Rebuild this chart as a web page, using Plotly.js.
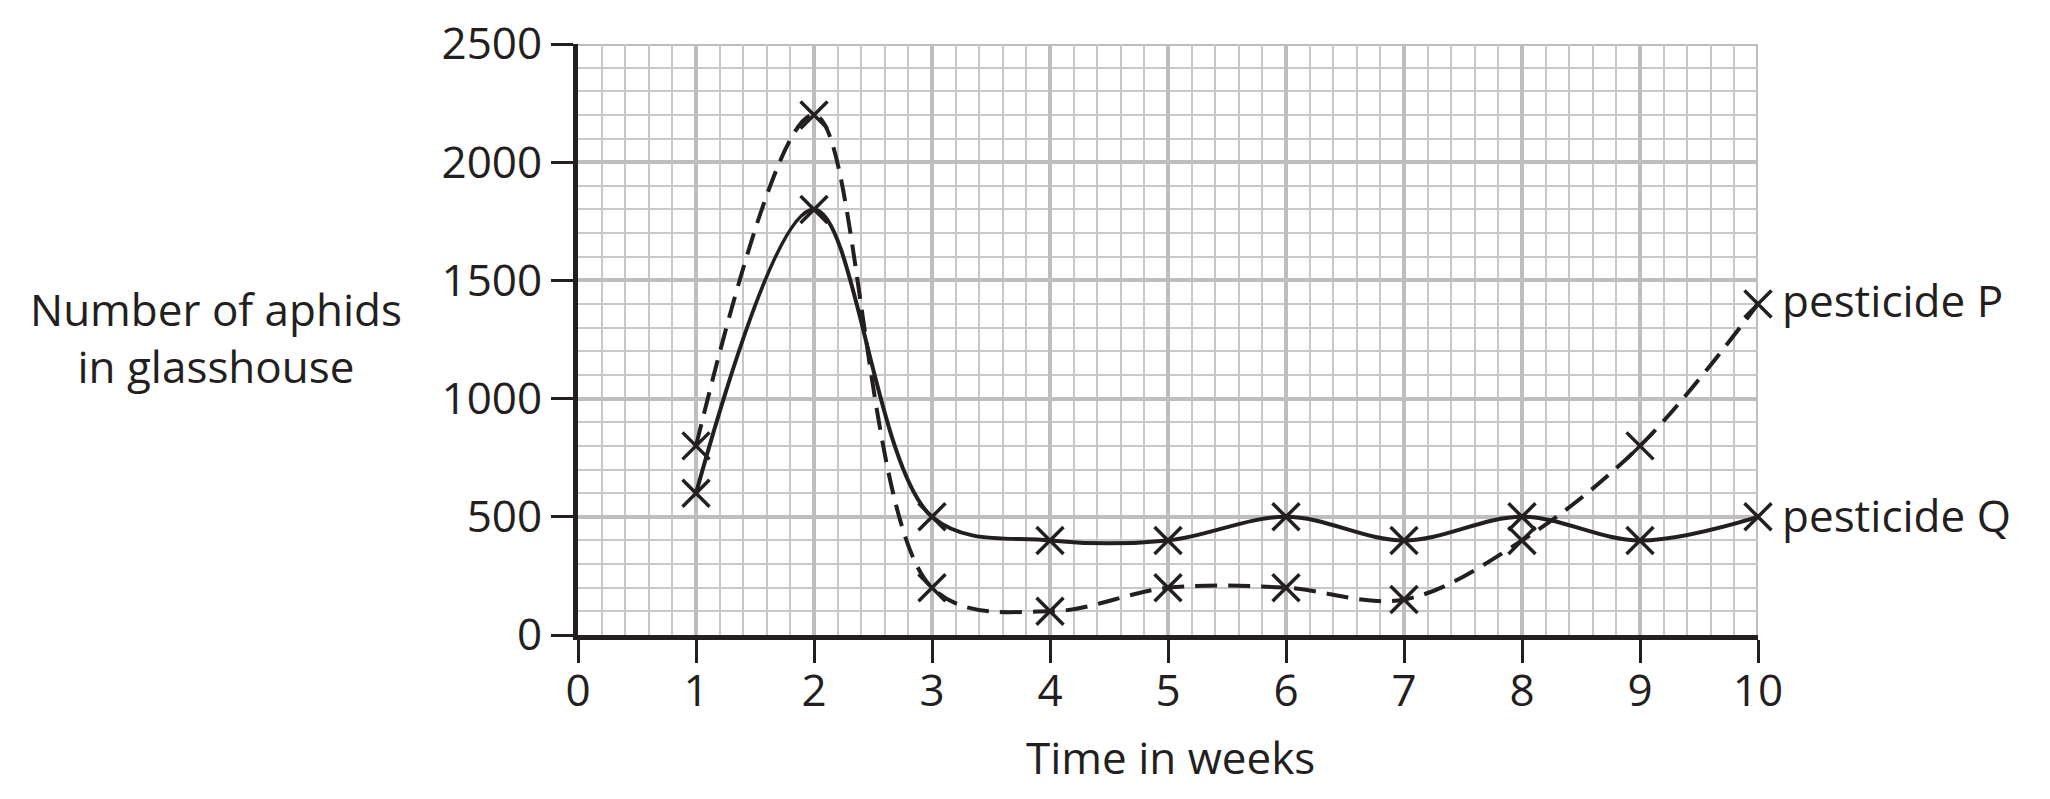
<!DOCTYPE html>
<html>
<head>
<meta charset="utf-8">
<script src="https://cdn.plot.ly/plotly-3.0.1.min.js"></script>
<style>html,body{margin:0;padding:0;background:#fff;}#chart{width:2050px;height:799px;}</style>
</head>
<body>
<div id="chart"></div>
<script>
const weeks = [1, 2, 3, 4, 5, 6, 7, 8, 9, 10];
const pesticideP = [800, 2200, 200, 100, 200, 200, 150, 400, 800, 1400];
const pesticideQ = [600, 1800, 500, 400, 400, 500, 400, 500, 400, 500];
const seriesNames = ['pesticide P', 'pesticide Q'];
const xTitle = 'Time in weeks';
const yTitleLines = ['Number of aphids', 'in glasshouse'];

const ink = '#231f20';
const fontFam = '"Open Sans", "Noto Sans", sans-serif';
const fs = 44;

const traces = [
  {
    x: weeks, y: pesticideP, name: seriesNames[0], mode: 'lines+markers', cliponaxis: false,
    line: {shape: 'spline', smoothing: 1, color: ink, width: 4, dash: '22px,11px'},
    marker: {symbol: 'x-thin', size: 27, line: {color: ink, width: 3.5}, color: ink}
  },
  {
    x: weeks, y: pesticideQ, name: seriesNames[1], mode: 'lines+markers', cliponaxis: false,
    line: {shape: 'spline', smoothing: 1, color: ink, width: 4},
    marker: {symbol: 'x-thin', size: 27, line: {color: ink, width: 3.5}, color: ink}
  }
];

const layout = {
  width: 2050, height: 799,
  margin: {l: 578, r: 292, t: 44, b: 164},
  paper_bgcolor: '#fff', plot_bgcolor: '#fff',
  showlegend: false,
  font: {family: fontFam, color: ink, size: fs},
  xaxis: {
    range: [0, 10], dtick: 1, tick0: 0,
    showline: true, linecolor: ink, linewidth: 5,
    ticks: 'outside', ticklen: 23, tickwidth: 3, tickcolor: ink,
    showgrid: true, gridcolor: '#bebebe', gridwidth: 4,
    minor: {dtick: 0.2, showgrid: true, gridcolor: '#c8c8c8', gridwidth: 2, ticks: ''},
    zeroline: false,
    tickfont: {family: fontFam, size: fs, color: ink},
    ticklabelstandoff: -10,
    fixedrange: true
  },
  yaxis: {
    range: [0, 2500], dtick: 500, tick0: 0,
    showline: true, linecolor: ink, linewidth: 5,
    ticks: 'outside', ticklen: 22, tickwidth: 3, tickcolor: ink,
    showgrid: true, gridcolor: '#bebebe', gridwidth: 4,
    minor: {dtick: 100, showgrid: true, gridcolor: '#c8c8c8', gridwidth: 2, ticks: ''},
    zeroline: false,
    tickfont: {family: fontFam, size: fs, color: ink},
    fixedrange: true
  },
  shapes: [
    {type: 'line', xref: 'x', yref: 'y', x0: 10, x1: 10, y0: 0, y1: 2500, layer: 'below',
     line: {color: '#bebebe', width: 4}},
    {type: 'line', xref: 'x', yref: 'y', x0: 0, x1: 10, y0: 2500, y1: 2500, layer: 'below',
     line: {color: '#bebebe', width: 4}}
  ],
  annotations: [
    {xref: 'paper', yref: 'paper', x: (216 - 578) / 1180, y: (635 - 337) / 591,
     text: yTitleLines.join('<br>'), showarrow: false, xanchor: 'center', yanchor: 'middle',
     font: {family: fontFam, size: fs, color: ink}, align: 'center'},
    {xref: 'paper', yref: 'paper', x: (1170 - 578) / 1180, y: (635 - 757) / 591,
     text: xTitle, showarrow: false, xanchor: 'center', yanchor: 'middle',
     font: {family: fontFam, size: fs, color: ink}},
    {x: weeks[weeks.length - 1], y: pesticideP[pesticideP.length - 1], xref: 'x', yref: 'y',
     text: seriesNames[0], showarrow: false, xanchor: 'left', xshift: 22, yshift: 4,
     font: {family: fontFam, size: fs, color: ink}},
    {x: weeks[weeks.length - 1], y: pesticideQ[pesticideQ.length - 1], xref: 'x', yref: 'y',
     text: seriesNames[1], showarrow: false, xanchor: 'left', xshift: 22, yshift: 2,
     font: {family: fontFam, size: fs, color: ink}}
  ]
};

Plotly.newPlot('chart', traces, layout, {displayModeBar: false, staticPlot: true});
</script>
</body>
</html>
